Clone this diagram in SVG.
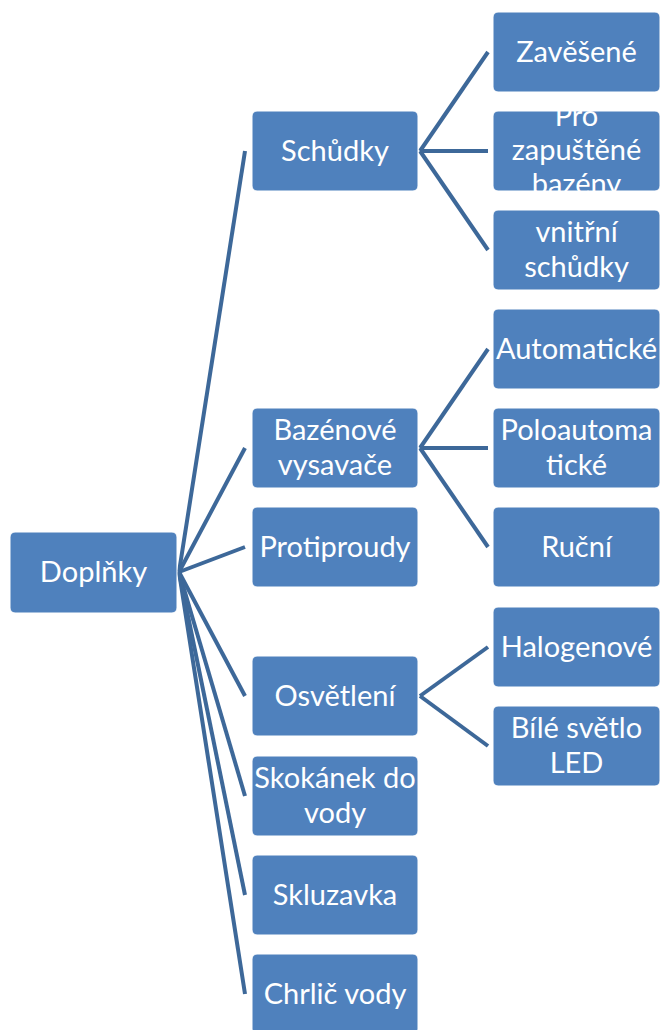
<svg xmlns="http://www.w3.org/2000/svg" width="661" height="1030" viewBox="0 0 661 1030">
  <style>
    .box { fill: #4f81bd; stroke: #ffffff; stroke-width: 1; }
    .lbl { fill: #ffffff; font-family: Lato, "Liberation Sans", sans-serif; font-size: 29px; text-anchor: middle; }
    .link { stroke: #3d6899; stroke-width: 4; fill: none; stroke-linecap: butt; }
  </style>
  <rect width="661" height="1030" fill="#ffffff"/>

  <g id="connectors">
    <!-- root to second level -->
    <line class="link" x1="179" y1="572" x2="245" y2="151"/>
    <line class="link" x1="179" y1="572" x2="245" y2="448"/>
    <line class="link" x1="179" y1="572" x2="245" y2="547"/>
    <line class="link" x1="179" y1="572" x2="245" y2="696"/>
    <line class="link" x1="179" y1="572" x2="245" y2="796"/>
    <line class="link" x1="179" y1="572" x2="245" y2="895"/>
    <line class="link" x1="179" y1="572" x2="245" y2="994"/>
    <!-- Schůdky -->
    <line class="link" x1="420" y1="151" x2="488" y2="52"/>
    <line class="link" x1="420" y1="151" x2="488" y2="151"/>
    <line class="link" x1="420" y1="151" x2="488" y2="250"/>
    <!-- Bazénové vysavače -->
    <line class="link" x1="420" y1="448" x2="488" y2="349"/>
    <line class="link" x1="420" y1="448" x2="488" y2="448"/>
    <line class="link" x1="420" y1="448" x2="488" y2="547"/>
    <!-- Osvětlení -->
    <line class="link" x1="420" y1="696" x2="488" y2="647"/>
    <line class="link" x1="420" y1="696" x2="488" y2="746"/>
  </g>

  <g id="doplnky">
    <rect class="box" x="10" y="532" width="167" height="81" rx="5"/>
    <text class="lbl" x="93.5" y="582">Doplňky</text>
  </g>

  <g id="schudky">
    <rect class="box" x="252" y="111" width="166" height="80" rx="5"/>
    <text class="lbl" x="335" y="161">Schůdky</text>
  </g>
  <g id="vysavace">
    <rect class="box" x="252" y="408" width="166" height="80" rx="5"/>
    <text class="lbl" x="335" y="440">Bazénové</text>
    <text class="lbl" x="335" y="475">vysavače</text>
  </g>
  <g id="protiproudy">
    <rect class="box" x="252" y="507" width="166" height="80" rx="5"/>
    <text class="lbl" x="335" y="557">Protiproudy</text>
  </g>
  <g id="osvetleni">
    <rect class="box" x="252" y="656" width="166" height="80" rx="5"/>
    <text class="lbl" x="335" y="706">Osvětlení</text>
  </g>
  <g id="skokanek">
    <rect class="box" x="252" y="756" width="166" height="80" rx="5"/>
    <text class="lbl" x="335" y="788">Skokánek do</text>
    <text class="lbl" x="335" y="823">vody</text>
  </g>
  <g id="skluzavka">
    <rect class="box" x="252" y="855" width="166" height="80" rx="5"/>
    <text class="lbl" x="335" y="905">Skluzavka</text>
  </g>
  <g id="chrlic">
    <rect class="box" x="252" y="954" width="166" height="80" rx="5"/>
    <text class="lbl" x="335" y="1004">Chrlič vody</text>
  </g>

  <g id="zavesene">
    <rect class="box" x="493" y="12" width="167" height="80" rx="5"/>
    <text class="lbl" x="576.5" y="62">Zavěšené</text>
  </g>
  <g id="zapustene">
    <rect class="box" x="493" y="111" width="167" height="80" rx="5"/>
    <text class="lbl" x="576.5" y="126">Pro</text>
    <text class="lbl" x="576.5" y="160">zapuštěné</text>
    <text class="lbl" x="576.5" y="194">bazény</text>
  </g>
  <g id="vnitrni">
    <rect class="box" x="493" y="210" width="167" height="80" rx="5"/>
    <text class="lbl" x="576.5" y="242">vnitřní</text>
    <text class="lbl" x="576.5" y="277">schůdky</text>
  </g>
  <g id="automaticke">
    <rect class="box" x="493" y="309" width="167" height="80" rx="5"/>
    <text class="lbl" x="576.5" y="359">Automatické</text>
  </g>
  <g id="poloautomaticke">
    <rect class="box" x="493" y="408" width="167" height="80" rx="5"/>
    <text class="lbl" x="576.5" y="440">Poloautoma</text>
    <text class="lbl" x="576.5" y="475">tické</text>
  </g>
  <g id="rucni">
    <rect class="box" x="493" y="507" width="167" height="80" rx="5"/>
    <text class="lbl" x="576.5" y="557">Ruční</text>
  </g>
  <g id="halogenove">
    <rect class="box" x="493" y="607" width="167" height="80" rx="5"/>
    <text class="lbl" x="576.5" y="657">Halogenové</text>
  </g>
  <g id="led">
    <rect class="box" x="493" y="706" width="167" height="80" rx="5"/>
    <text class="lbl" x="576.5" y="738">Bílé světlo</text>
    <text class="lbl" x="576.5" y="773">LED</text>
  </g>
</svg>
